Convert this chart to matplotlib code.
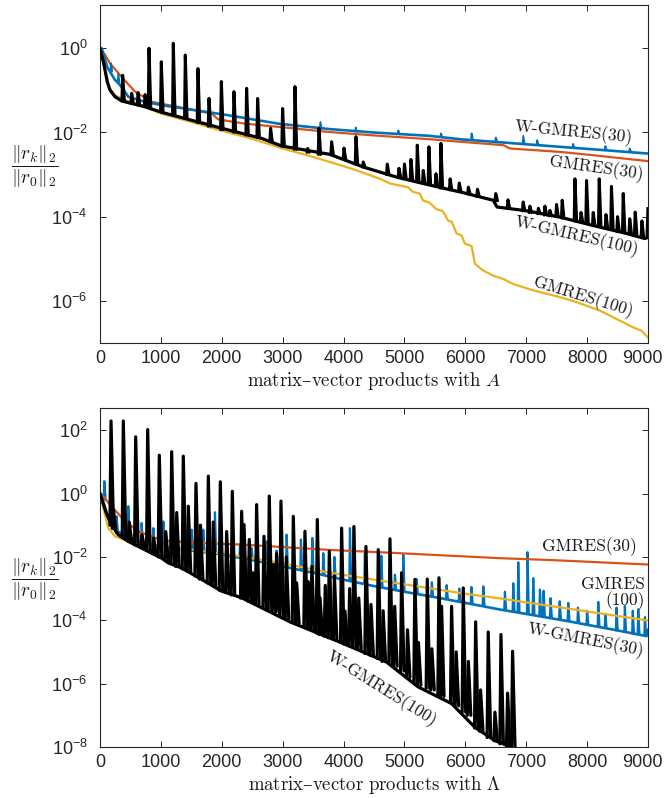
import numpy as np
import matplotlib
matplotlib.use("Agg")
import matplotlib.pyplot as plt
import matplotlib.transforms as mtransforms
from matplotlib.collections import LineCollection

plt.rcParams["font.family"] = ["Liberation Sans", "DejaVu Sans"]
plt.rcParams["mathtext.fontset"] = "cm"

BLUE, ORANGE, YELLOW, BLACK = "#0072BD", "#D95319", "#EDB120", "#000000"
LABEL_FONT = ["cmr10", "DejaVu Serif"]

# ---------------------------------------------------------------------------
# top panel: products with A  (y values are log10 of relative residual)
# ---------------------------------------------------------------------------
g30_top_x = [0, 80, 164, 356, 575, 849, 1341, 1834, 1943, 2381, 2956, 3777, 4600,
             5419, 5911, 6623, 6733, 7553, 8100, 9000]
g30_top_y = [0, -0.15, -0.36, -0.68, -1.03, -1.27, -1.41, -1.55, -1.69, -1.79, -1.87,
             -1.99, -2.08, -2.16, -2.22, -2.30, -2.38, -2.46, -2.54, -2.68]

g100_top_x = [0, 80, 160, 250, 400, 700, 1000, 1500, 2000, 2500, 3000, 3500, 4000,
              4215, 4598, 4762, 5058, 5140, 5250, 5304, 5413, 5523, 5632, 5720, 5775,
              5857, 5940, 5993, 6103, 6158, 6294, 6459, 6623, 6787, 7115, 7553, 7827,
              8210, 8484, 8758, 8895, 9000]
g100_top_y = [0, -0.5, -0.95, -1.12, -1.22, -1.36, -1.55, -1.75, -1.96, -2.15, -2.38,
              -2.58, -2.80, -2.90, -3.10, -3.21, -3.30, -3.41, -3.45, -3.61, -3.67,
              -3.82, -3.87, -4.10, -4.12, -4.40, -4.45, -4.64, -4.70, -5.12, -5.28,
              -5.40, -5.48, -5.60, -5.75, -5.91, -6.03, -6.23, -6.43, -6.63, -6.71, -6.87]

w30_top_x = [0, 28, 120, 246, 328, 465, 739, 1013, 1560, 2107, 2928, 3777, 4500,
             5419, 5911, 7006, 8100, 9000]
w30_top_y = [0, 0, -0.45, -0.75, -0.87, -1.15, -1.27, -1.35, -1.47, -1.59, -1.79,
             -1.92, -2.00, -2.08, -2.16, -2.28, -2.40, -2.50]
w30_top_spk_x = [180, 300, 3620, 4200, 4900, 5600, 6103, 6500, 6952, 7180, 7770, 8300, 8700]
w30_top_spk_peak = [-0.35, -0.6, -1.75, -1.88, -1.95, -2.02, -2.02, -2.12, -2.08, -2.18,
                    -2.27, -2.32, -2.38]
w30_top_spk_base = [-0.55, -0.8, -1.90, -1.98, -2.04, -2.10, -2.14, -2.20, -2.26, -2.29,
                    -2.35, -2.41, -2.45]

w100_top_x = [0, 60, 120, 164, 246, 356, 739, 1013, 1560, 2107, 2655, 2983, 3777, 4324,
              4871, 5419, 5966, 6459, 6520, 7006, 7553, 8100, 8648, 8949, 8985, 9000]
w100_top_y = [0, -0.35, -0.80, -0.99, -1.15, -1.25, -1.39, -1.52, -1.73, -1.94, -2.14,
              -2.32, -2.52, -2.82, -3.06, -3.25, -3.43, -3.61, -3.77, -3.86, -4.01,
              -4.21, -4.40, -4.52, -4.50, -3.81]
w100_top_spk_x = [372, 520, 625, 740, 805, 1007, 1204, 1401, 1609, 1790, 1993, 2200, 2408,
                  2589, 2802, 2999, 3202, 3410, 3596, 3804, 4007, 4204, 4324, 4718, 4910,
                  5000, 5107, 5211, 5309, 5402, 5517, 5599, 5750, 5900, 6050, 6200, 6500,
                  6700, 6950, 7060, 7200, 7307, 7389, 7498, 7591, 7800, 7900, 7991, 8100,
                  8199, 8310, 8400, 8500, 8593, 8700, 8790, 8900]
w100_top_spk_peak = [-0.64, -1.07, -1.05, -1.10, 0.0, -0.32, 0.12, -0.16, -0.48, -1.19,
                     -0.79, -1.03, -0.95, -1.19, -1.90, -1.43, -0.91, -2.38, -1.90, -2.22,
                     -2.37, -2.10, -2.70, -2.75, -2.85, -2.75, -2.64, -2.30, -2.90, -2.34,
                     -2.98, -2.26, -3.10, -3.20, -3.30, -3.35, -3.45, -3.60, -3.65, -3.75,
                     -3.80, -3.75, -3.85, -3.71, -3.61, -3.10, -3.90, -3.14, -3.90, -3.10,
                     -3.95, -3.28, -4.00, -3.45, -4.05, -3.89, -4.10]
w100_top_spk_base = [-1.25, -1.31, -1.34, -1.38, -1.40, -1.50, -1.57, -1.66, -1.76, -1.85,
                     -1.93, -1.99, -2.06, -2.12, -2.22, -2.32, -2.40, -2.47, -2.52, -2.53,
                     -2.63, -2.75, -2.82, -3.00, -3.06, -3.09, -3.13, -3.16, -3.20, -3.24,
                     -3.28, -3.32, -3.36, -3.40, -3.46, -3.52, -3.62, -3.80, -3.86, -3.90,
                     -3.93, -3.96, -3.98, -4.00, -4.03, -4.10, -4.12, -4.16, -4.20, -4.23,
                     -4.27, -4.30, -4.34, -4.37, -4.40, -4.43, -4.47]

# ---------------------------------------------------------------------------
# bottom panel: products with Lambda
# ---------------------------------------------------------------------------
g30_bot_x = [0, 80, 164, 410, 629, 903, 1122, 1500, 2326, 3777, 4680, 6568, 7416, 9000]
g30_bot_y = [0, -0.15, -0.35, -0.87, -1.19, -1.40, -1.49, -1.55, -1.61, -1.78, -1.86,
             -2.04, -2.10, -2.24]

g100_bot_x = [0, 60, 137, 246, 465, 1013, 1560, 2326, 3000, 3777, 4680, 5993, 6568, 8977, 9000]
g100_bot_y = [0, -0.5, -1.09, -1.35, -1.51, -1.67, -1.78, -1.99, -2.20, -2.50, -2.77,
              -3.16, -3.31, -4.00, -4.01]

w30_bot_x = [0, 60, 150, 300, 500, 800, 1200, 1600, 2000, 2500, 3000, 3500, 4000, 4500,
             5000, 5500, 6000, 6568, 7000, 7690, 8500, 8977, 9000]
w30_bot_y = [0, -0.3, -0.85, -1.20, -1.45, -1.60, -1.72, -1.82, -1.92, -2.10, -2.30,
             -2.50, -2.72, -2.92, -3.10, -3.27, -3.45, -3.66, -3.80, -4.03, -4.32, -4.50, -4.30]
w30_bot_spk_x = [71, 274, 465, 684, 876, 1040, 1259, 1505, 1696, 1888, 2080, 2300, 2490,
                 2737, 2900, 3065, 3300, 3487, 3667, 3850, 4105, 4170, 4350, 4620, 4844,
                 4981, 5200, 5450, 5693, 5900, 6100, 6295, 6650, 6787, 6869, 7022, 7115,
                 7225, 7285, 7400, 7550, 7690, 7850, 8000, 8183, 8300, 8483, 8620, 8750,
                 8840, 8950]
w30_bot_spk_peak = [0.39, -0.72, -0.40, -0.93, -1.09, -0.88, -1.20, -1.14, -1.14, -0.59,
                    -1.30, -1.60, -1.72, -1.51, -1.80, -1.30, -1.45, -1.40, -1.88, -2.00,
                    -1.09, -1.07, -1.90, -1.96, -2.56, -1.93, -2.70, -2.80, -2.89, -3.00,
                    -2.95, -2.93, -3.10, -2.83, -2.17, -1.85, -2.67, -3.03, -3.07, -3.30,
                    -3.40, -3.45, -3.60, -3.70, -3.42, -3.80, -3.60, -3.55, -3.70, -3.65, -3.90]
w30_bot_spk_base = [-0.20, -1.25, -1.45, -1.55, -1.62, -1.66, -1.72, -1.80, -1.85, -1.90,
                    -1.95, -2.03, -2.10, -2.20, -2.27, -2.33, -2.42, -2.50, -2.57, -2.65,
                    -2.75, -2.78, -2.85, -2.95, -3.02, -3.08, -3.16, -3.25, -3.33, -3.40,
                    -3.47, -3.53, -3.65, -3.70, -3.72, -3.77, -3.80, -3.84, -3.86, -3.90,
                    -3.95, -4.00, -4.07, -4.12, -4.20, -4.25, -4.32, -4.37, -4.42, -4.45, -4.48]

w100_bot_x = [0, 100, 192, 300, 465, 629, 1013, 1122, 1341, 1669, 1998, 2326, 3120, 3941,
              4707, 5222, 5774, 6158, 6486, 6760, 6830]
w100_bot_y = [0, -0.6, -1.0, -1.3, -1.51, -1.67, -2.04, -2.19, -2.35, -2.71, -3.08, -3.29,
              -4.05, -4.69, -5.32, -6.10, -6.63, -7.38, -7.80, -8.00, -8.60]
w100_bot_spk_x = [181, 383, 586, 783, 974, 1177, 1368, 1576, 1779, 1976, 2173, 2326, 2452,
                  2572, 2693, 2780, 2972, 3175, 3366, 3569, 3766, 3968, 4170, 4368, 4570,
                  4762, 4953, 5172, 5375, 5567, 5774, 5966, 6169, 6376, 6486, 6585, 6694, 6776,
                  219, 480, 690, 880, 1080, 1260, 1450, 1650, 1861, 2080, 2365, 2518, 2846,
                  2900, 3060, 3230, 3420, 3480, 3613, 3700, 3850, 4023, 4100, 4250, 4450,
                  4650, 4840, 5050, 5230, 5450, 5610, 5850, 6050, 6250]
w100_bot_spk_peak = [2.29, 2.29, 1.79, 2.02, 1.21, 1.32, 1.18, 0.32, 0.55, 0.37, 0.07,
                     -0.56, -1.45, -0.35, -1.35, -0.08, -0.24, -0.72, -1.19, -0.82, -1.82,
                     -1.09, -1.04, -1.67, -1.77, -1.43, -2.50, -2.71, -2.70, -2.66, -3.56,
                     -2.98, -4.05, -4.37, -6.90, -4.45, -6.30, -4.98,
                     -0.49, -0.90, -1.30, -1.40, -1.20, -0.60, -0.40, -1.00, -0.90, -1.20,
                     -0.98, -2.50, -2.24, -1.90, -2.00, -2.82, -2.78, -2.30, -3.29, -2.90,
                     -2.60, -3.71, -3.00, -3.30, -3.50, -3.70, -3.56, -4.30, -4.70, -4.90,
                     -3.56, -5.00, -5.30, -6.20]
w100_bot_spk_base = [-1.00, -1.35, -1.62, -1.80, -2.00, -2.20, -2.38, -2.60, -2.82, -3.05,
                     -3.20, -3.30, -3.40, -3.50, -3.60, -3.65, -3.85, -4.05, -4.20, -4.40,
                     -4.55, -4.70, -4.85, -5.05, -5.20, -5.35, -5.60, -6.00, -6.15, -6.35,
                     -6.60, -6.90, -7.40, -7.70, -7.80, -7.90, -8.00, -8.00,
                     -1.10, -1.50, -1.70, -1.90, -2.10, -2.30, -2.45, -2.70, -2.90, -3.10,
                     -3.30, -3.45, -3.70, -3.75, -3.95, -4.10, -4.25, -4.30, -4.45, -4.50,
                     -4.60, -4.75, -4.80, -4.90, -5.10, -5.30, -5.45, -5.80, -6.05, -6.20,
                     -6.40, -6.70, -7.00, -7.50]


def add_curve(ax, x, logy, color, lw, z):
    ax.plot(x, 10.0 ** np.asarray(logy), color=color, lw=lw, zorder=z,
            solid_joinstyle="round")


def add_spikes(ax, xs, peaks, bases, color, lw, z, left, right):
    segs = [[(x - left, 10.0 ** b), (x, 10.0 ** p), (x + right, 10.0 ** b)]
            for x, p, b in zip(xs, peaks, bases)]
    ax.add_collection(LineCollection(segs, colors=color, linewidths=lw, zorder=z,
                                     joinstyle="round", capstyle="round"))


def style_axis(ax, ylim, yticks, xname):
    ax.set_yscale("log")
    ax.set_xlim(0, 9000)
    ax.set_ylim(*ylim)
    ax.set_xticks(np.arange(0, 9001, 1000))
    ax.set_yticks(yticks)
    ax.minorticks_off()
    ax.tick_params(direction="in", top=True, right=True, length=4.5, width=0.7,
                   labelsize=13, colors="#262626")
    ax.tick_params(axis="y", pad=9)
    ax.tick_params(axis="x", pad=5)
    for sp in ax.spines.values():
        sp.set_color("#262626")
        sp.set_linewidth(0.8)
    ax.set_xlabel(r"$\mathrm{matrix}$–$\mathrm{vector\ products\ with}\ %s$" % xname,
                  fontsize=13.5, family=["DejaVu Serif"], math_fontfamily="cm",
                  labelpad=2, color="#1a1a1a")
    # pull the last x tick label in slightly so it stays inside the figure
    fig.canvas.draw()
    last = ax.get_xticklabels()[-1]
    last.set_transform(last.get_transform() +
                       mtransforms.ScaledTranslation(-4 / 72, 0, fig.dpi_scale_trans))


fig = plt.figure(figsize=(6.64, 7.98), dpi=100)
ax1 = fig.add_axes([0.1506, 0.5702, 0.8253, 0.4236])
ax2 = fig.add_axes([0.1506, 0.0639, 0.8253, 0.4248])

# top
add_curve(ax1, g30_top_x, g30_top_y, ORANGE, 1.6, 2)
add_curve(ax1, g100_top_x, g100_top_y, YELLOW, 1.6, 3)
add_curve(ax1, w30_top_x, w30_top_y, BLUE, 1.9, 4)
add_spikes(ax1, w30_top_spk_x, w30_top_spk_peak, w30_top_spk_base, BLUE, 1.3, 4, 10, 20)
add_curve(ax1, w100_top_x, w100_top_y, BLACK, 2.3, 5)
add_spikes(ax1, w100_top_spk_x, w100_top_spk_peak, w100_top_spk_base, BLACK, 2.2, 5, 12, 28)
style_axis(ax1, (1e-7, 10 ** 1.03), [1e-6, 1e-4, 1e-2, 1e0], "A")

lab = dict(fontsize=12.5, family=LABEL_FONT, ha="center", va="center",
           rotation_mode="anchor", color="#1a1a1a")
ax1.text(7783, 10 ** -1.99, "W-GMRES(30)", rotation=-5.5, **lab)
ax1.text(8144, 10 ** -2.85, "GMRES(30)", rotation=-8, **lab)
ax1.text(7833, 10 ** -4.47, "W-GMRES(100)", rotation=-13, **lab)
ax1.text(7931, 10 ** -5.90, "GMRES(100)", rotation=-17, **lab)

# bottom
add_curve(ax2, w30_bot_x, w30_bot_y, BLUE, 1.9, 2)
add_spikes(ax2, w30_bot_spk_x, w30_bot_spk_peak, w30_bot_spk_base, BLUE, 1.6, 2, 10, 20)
add_curve(ax2, g100_bot_x, g100_bot_y, YELLOW, 1.6, 3)
add_curve(ax2, g30_bot_x, g30_bot_y, ORANGE, 1.6, 3)
add_curve(ax2, w100_bot_x, w100_bot_y, BLACK, 2.3, 5)
add_spikes(ax2, w100_bot_spk_x, w100_bot_spk_peak, w100_bot_spk_base, BLACK, 2.3, 5, 18, 40)
style_axis(ax2, (1e-8, 10 ** 2.7), [1e-8, 1e-6, 1e-4, 1e-2, 1e0, 1e2], r"\Lambda")

ax2.text(8046, 10 ** -1.67, "GMRES(30)", rotation=0, **lab)
ax2.text(8949, 10 ** -3.15, "GMRES\n(100)", fontsize=12.5, family=LABEL_FONT,
         ha="right", va="center", multialignment="right", linespacing=1.0, color="#1a1a1a")
ax2.text(7980, 10 ** -4.64, "W-GMRES(30)", rotation=-11, **lab)
ax2.text(4631, 10 ** -6.15, "W-GMRES(100)", rotation=-32, **lab)

ylab = r"$\dfrac{\|r_k\|_2}{\|r_0\|_2}$"
fig.text(35 / 664, 1 - 167 / 798, ylab, fontsize=14, ha="center", va="center",
         math_fontfamily="cm", color="#1a1a1a")
fig.text(35 / 664, 1 - 580 / 798, ylab, fontsize=14, ha="center", va="center",
         math_fontfamily="cm", color="#1a1a1a")

fig.savefig("out.png", dpi=100)
